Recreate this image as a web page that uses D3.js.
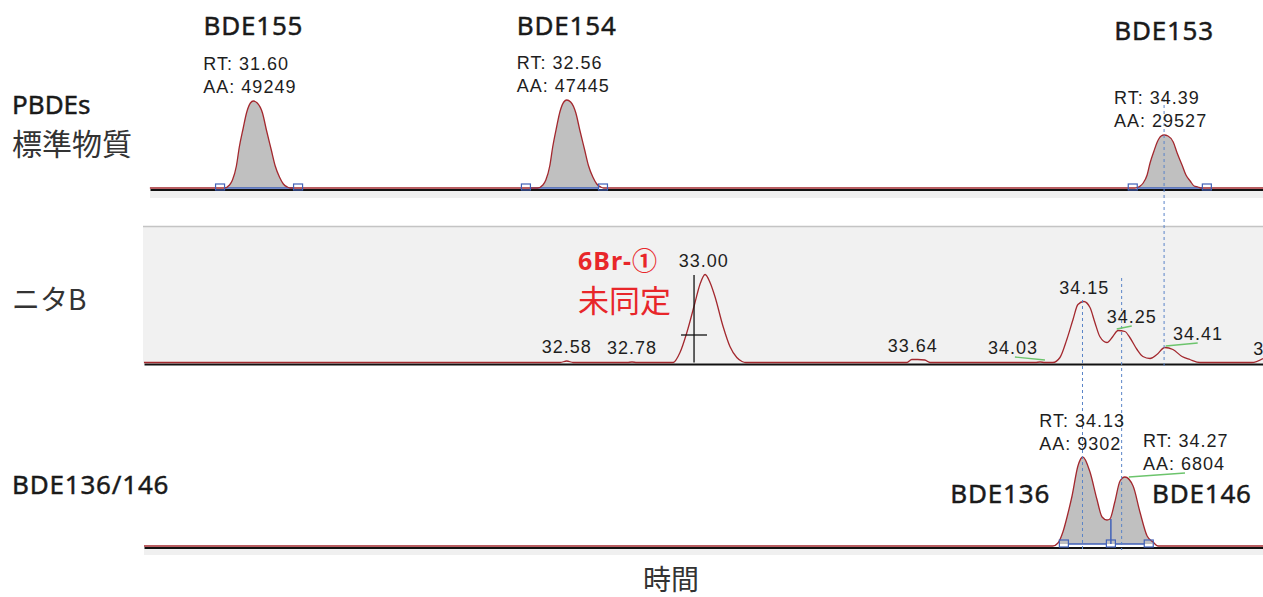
<!DOCTYPE html>
<html>
<head>
<meta charset="utf-8">
<script src="https://cdn.jsdelivr.net/npm/d3@7"></script>
<style>
  body { margin: 0; background: #fff; }
  svg { display: block; }
  .num { font-family: "Liberation Sans", Arial, sans-serif; font-size: 18px; letter-spacing: 1px; fill: #1e1e1e; }
  .name { font-family: "Noto Sans", sans-serif; font-size: 26px; letter-spacing: 0.8px; fill: #1a1a1a; stroke: #1a1a1a; stroke-width: 0.45px; }
  .jp { font-family: "Noto Sans CJK JP", sans-serif; fill: #333; }
</style>
</head>
<body>
<script>
// retention time window (min)
const rtDomain = [31.265, 34.693]

// PBDEs standard trace [rt, signal]
const stdTrace = [
  [31.283, 0], [31.511, 0], [31.527, 3], [31.536, 8], [31.548, 22], [31.557, 41], [31.569, 60], [31.579, 75],
  [31.591, 85], [31.600, 87], [31.612, 85], [31.628, 75], [31.640, 58], [31.655, 38], [31.667, 22], [31.680, 11],
  [31.692, 4], [31.704, 1], [31.713, 0],
  [32.471, 0], [32.487, 3], [32.496, 8], [32.508, 22], [32.517, 41], [32.529, 61], [32.539, 76], [32.551, 86],
  [32.560, 88], [32.572, 86], [32.588, 75], [32.600, 58], [32.615, 38], [32.627, 22], [32.640, 11], [32.652, 4],
  [32.664, 1], [32.673, 0],
  [34.301, 0], [34.317, 2], [34.326, 5], [34.338, 13], [34.347, 25], [34.359, 37], [34.369, 46], [34.381, 52],
  [34.390, 53], [34.402, 52], [34.418, 46], [34.430, 35], [34.445, 23], [34.457, 13], [34.470, 7], [34.482, 2],
  [34.494, 1], [34.503, 0],
  [34.693, 0]
]
const stdNames = ['BDE155', 'BDE154', 'BDE153']
const stdRT = [31.60, 32.56, 34.39]
const stdArea = [49249, 47445, 29527]
const stdStart = [31.498, 32.435, 34.294]
const stdEnd = [31.737, 32.671, 34.521]

// ニタB sample trace (its own time axis, runs 0.02 min later)
const nitaTrace = [
  [31.285, 0], [32.560, 0], [32.580, 1.5], [32.600, 0], [32.765, 0], [32.780, 0.5], [32.795, 0],
  [32.906, 0], [32.927, 10], [32.948, 30], [32.973, 60], [32.988, 78], [33.004, 88], [33.019, 80], [33.034, 66],
  [33.059, 36], [33.080, 16], [33.101, 5], [33.117, 1], [33.129, 0],
  [33.622, 0], [33.637, 3], [33.655, 3], [33.677, 2.5], [33.693, 0],
  [34.015, 0], [34.030, 0.5], [34.045, 0],
  [34.069, 0], [34.091, 5], [34.112, 23], [34.131, 43], [34.146, 58], [34.164, 61], [34.183, 55], [34.198, 40],
  [34.213, 26], [34.235, 20], [34.253, 26], [34.269, 32], [34.290, 31], [34.305, 25], [34.327, 13], [34.345, 6],
  [34.367, 4], [34.388, 8], [34.412, 15], [34.437, 13], [34.465, 6], [34.489, 3], [34.520, 0],
  [34.679, 0], [34.713, 4]
]
const nitaLabels = [32.58, 32.78, 33.00, 33.64, 34.03, 34.15, 34.25, 34.41, 34.76]
const nitaLeaders = [[33.953, 5.5, 34.045, 2.5], [34.265, 33.5, 34.311, 36.5], [34.415, 16.5, 34.513, 19.5]]
const crossRT = 32.97
const crossTop = 87.5
const crossMid = 27.5

// BDE136/146 trace
const mixTrace = [
  [31.265, 0], [34.049, 0], [34.065, 3], [34.080, 14], [34.095, 32], [34.108, 50], [34.126, 80], [34.141, 89],
  [34.163, 74], [34.184, 47], [34.200, 29], [34.215, 26], [34.224, 27], [34.239, 44], [34.255, 65], [34.270, 69],
  [34.295, 60], [34.316, 34], [34.338, 10], [34.356, 4], [34.371, 0], [34.693, 0]
]
const mixNames = ['BDE136', 'BDE146']
const mixRT = [34.13, 34.27]
const mixArea = [9302, 6804]
const mixMarks = [34.083, 34.227, 34.343]   // start, split, end
const mixLeader = [34.282, 69, 34.454, 73]

// dashed guides across panels
const guideRT = [34.39, 34.14, 34.26]

const W = 1263, H = 597
const svg = d3.select('body').append('svg').attr('width', W).attr('height', H)

const x = d3.scaleLinear().domain(rtDomain).range([144, W])
const xStd = x.copy().domain([x.invert(150), rtDomain[1]]).range([150, W])
const xNita = x.copy().domain([rtDomain[0] + 0.02, rtDomain[1] + 0.02])

const yPanel = (base) => d3.scaleLinear().domain([0, 100]).range([base, base - 100])
const y1 = yPanel(188)
const y2 = yPanel(362.5)
const y3 = yPanel(546)

const fmt = d3.format('.2f')
const peakTop = (trace, rt) => d3.max(trace.filter(d => Math.abs(d[0] - rt) < 0.025), d => d[1]) || 0

// backgrounds
svg.append('rect').attr('x', 150).attr('y', 191).attr('width', W - 150).attr('height', 7).attr('fill', '#f0f0f0')
svg.append('rect').attr('x', 143).attr('y', 226.5).attr('width', W - 143).attr('height', 137).attr('fill', '#f1f1f1')
svg.append('line').attr('x1', 143).attr('x2', W).attr('y1', 226.5).attr('y2', 226.5).attr('stroke', '#c4c4c4').attr('stroke-width', 1.5)
svg.append('rect').attr('x', 144).attr('y', 549).attr('width', W - 144).attr('height', 6).attr('fill', '#f0f0f0')

// axes (bare baselines)
const baseAxis = (sx, yy) => {
  svg.append('g')
    .attr('transform', `translate(0,${yy})`)
    .call(d3.axisBottom(sx).tickValues([]).tickSizeOuter(0))
    .call(g => g.select('.domain').attr('stroke', '#111').attr('stroke-width', 2))
}
baseAxis(xStd, 189.5)
baseAxis(x, 364)
baseAxis(x, 547.5)

const lineGen = (sx, sy) => d3.line().x(d => sx(d[0])).y(d => sy(d[1])).curve(d3.curveMonotoneX)
const areaGen = (sx, sy, b) => d3.area().x(d => sx(d[0])).y0(sy(b)).y1(d => sy(Math.max(d[1], b))).curve(d3.curveMonotoneX)

const defs = svg.append('defs')
let clipN = 0
const filled = (trace, sx, sy, from, to, b) => {
  const id = 'clip' + (clipN++)
  defs.append('clipPath').attr('id', id).append('rect')
    .attr('x', sx(from)).attr('y', 0).attr('width', sx(to) - sx(from)).attr('height', H)
  svg.append('path').datum(trace)
    .attr('d', areaGen(sx, sy, b))
    .attr('fill', '#c0c0c0')
    .attr('clip-path', `url(#${id})`)
}

const blue = '#4161b8'
const square = (sx, sy, rt, b, h) => {
  svg.append('rect')
    .attr('x', sx(rt) - 4.5).attr('y', sy(b) - 4).attr('width', 9).attr('height', h)
    .attr('fill', 'none').attr('stroke', blue).attr('stroke-width', 1.2)
}

// ---- panel 1 : standards ----
stdRT.forEach((rt, i) => filled(stdTrace, xStd, y1, stdStart[i], stdEnd[i], 0))
stdRT.forEach((rt, i) => {
  svg.append('line')
    .attr('x1', xStd(stdStart[i]) + 4.5).attr('x2', xStd(stdEnd[i]) - 4.5)
    .attr('y1', y1(0)).attr('y2', y1(0))
    .attr('stroke', blue).attr('stroke-width', 1.5)
})
svg.append('path').datum(stdTrace).attr('d', lineGen(xStd, y1))
  .attr('fill', 'none').attr('stroke', '#a3282e').attr('stroke-width', 1.3)
stdRT.forEach((rt, i) => {
  square(xStd, y1, stdStart[i], 0, 6)
  square(xStd, y1, stdEnd[i], 0, 6)
})

// ---- panel 2 : ニタB ----
svg.append('path').datum(nitaTrace).attr('d', lineGen(xNita, y2))
  .attr('fill', 'none').attr('stroke', '#a3282e').attr('stroke-width', 1.3)

// ---- panel 3 : BDE136/146 ----
filled(mixTrace, x, y3, mixMarks[0] - 0.012, mixMarks[2] + 0.012, 2)
svg.append('line')
  .attr('x1', x(mixMarks[0]) + 4.5).attr('x2', x(mixMarks[1]) - 4.5)
  .attr('y1', y3(2)).attr('y2', y3(2)).attr('stroke', blue).attr('stroke-width', 1.5)
svg.append('line')
  .attr('x1', x(mixMarks[1]) + 4.5).attr('x2', x(mixMarks[2]) - 4.5)
  .attr('y1', y3(2)).attr('y2', y3(2)).attr('stroke', blue).attr('stroke-width', 1.5)
svg.append('line')
  .attr('x1', x(mixMarks[1])).attr('x2', x(mixMarks[1]))
  .attr('y1', y3(27)).attr('y2', y3(2)).attr('stroke', blue).attr('stroke-width', 1.5)
svg.append('path').datum(mixTrace).attr('d', lineGen(x, y3))
  .attr('fill', 'none').attr('stroke', '#a3282e').attr('stroke-width', 1.3)
mixMarks.forEach(rt => square(x, y3, rt, 2, 7))

// dashed guides
const guideSpan = [[99, 366], [300, 550], [278, 550]]
guideRT.forEach((rt, i) => {
  svg.append('line')
    .attr('x1', x(rt)).attr('x2', x(rt))
    .attr('y1', guideSpan[i][0]).attr('y2', guideSpan[i][1])
    .attr('stroke', '#5a84c8').attr('stroke-width', 1).attr('stroke-dasharray', '3,3')
})

// crosshair on the unknown peak
svg.append('line')
  .attr('x1', xNita(crossRT)).attr('x2', xNita(crossRT))
  .attr('y1', y2(crossTop)).attr('y2', y2(0))
  .attr('stroke', '#111').attr('stroke-width', 1.3)
svg.append('line')
  .attr('x1', xNita(crossRT) - 13).attr('x2', xNita(crossRT) + 13)
  .attr('y1', y2(crossMid)).attr('y2', y2(crossMid))
  .attr('stroke', '#111').attr('stroke-width', 1.3)

// green leaders
const green = '#6cc46c'
nitaLeaders.forEach(d => {
  svg.append('line')
    .attr('x1', xNita(d[0])).attr('y1', y2(d[1])).attr('x2', xNita(d[2])).attr('y2', y2(d[3]))
    .attr('stroke', green).attr('stroke-width', 1.3)
})
svg.append('line')
  .attr('x1', x(mixLeader[0])).attr('y1', y3(mixLeader[1])).attr('x2', x(mixLeader[2])).attr('y2', y3(mixLeader[3]))
  .attr('stroke', green).attr('stroke-width', 1.3)

// ---- text ----
// standard peak names + RT/AA
const stdTitleY = [35, 35, 40]
stdRT.forEach((rt, i) => {
  svg.append('text').attr('class', 'name').attr('text-anchor', 'middle')
    .attr('x', xStd(rt)).attr('y', stdTitleY[i]).text(stdNames[i])
  const aaY = y1(peakTop(stdTrace, rt)) - 8
  svg.append('text').attr('class', 'num').attr('x', xStd(rt) - 50).attr('y', aaY - 23).text('RT: ' + fmt(rt))
  svg.append('text').attr('class', 'num').attr('x', xStd(rt) - 50).attr('y', aaY).text('AA: ' + stdArea[i])
})

// sample peak labels
const nitaNudge = { '34.03': -27, '34.15': 5, '34.25': 20, '34.41': 34 }
nitaLabels.forEach(rt => {
  const t = fmt(rt)
  svg.append('text').attr('class', 'num').attr('text-anchor', 'middle')
    .attr('x', xNita(rt) + (nitaNudge[t] || 0))
    .attr('y', y2(peakTop(nitaTrace, rt)) - 8)
    .text(t)
})

// mix labels
const mixDx = [-40, 18]
const mixNameX = [-79, 77]
mixRT.forEach((rt, i) => {
  const aaY = y3(peakTop(mixTrace, rt)) - 7
  svg.append('text').attr('class', 'num').attr('x', x(rt) + mixDx[i]).attr('y', aaY - 23).text('RT: ' + fmt(rt))
  svg.append('text').attr('class', 'num').attr('x', x(rt) + mixDx[i]).attr('y', aaY).text('AA: ' + mixArea[i])
  svg.append('text').attr('class', 'name').attr('text-anchor', 'middle')
    .attr('x', x(rt) + mixNameX[i]).attr('y', 503).text(mixNames[i])
})

// red annotation
svg.append('text').attr('x', 578).attr('y', 270)
  .attr('font-family', '"Noto Sans", "Noto Sans CJK JP", sans-serif').attr('font-size', 25)
  .attr('font-weight', 'bold').attr('fill', '#e8262a').attr('letter-spacing', 1).text('6Br-①')
svg.append('text').attr('class', 'jp').attr('x', 578).attr('y', 312)
  .attr('font-size', 31).style('fill', '#e8262a').text('未同定')

// row titles
svg.append('text').attr('class', 'name').attr('x', 12).attr('y', 114).style('letter-spacing', '0px').text('PBDEs')
svg.append('text').attr('class', 'jp').attr('x', 12).attr('y', 155).attr('font-size', 30).text('標準物質')
svg.append('text').attr('class', 'jp').attr('x', 12).attr('y', 310).attr('font-size', 28).text('ニタB')
svg.append('text').attr('class', 'name').attr('x', 12).attr('y', 494).text('BDE136/146')

// x axis title
svg.append('text').attr('class', 'jp').attr('text-anchor', 'middle')
  .attr('x', 671).attr('y', 590).attr('font-size', 28).text('時間')
</script>
</body>
</html>
